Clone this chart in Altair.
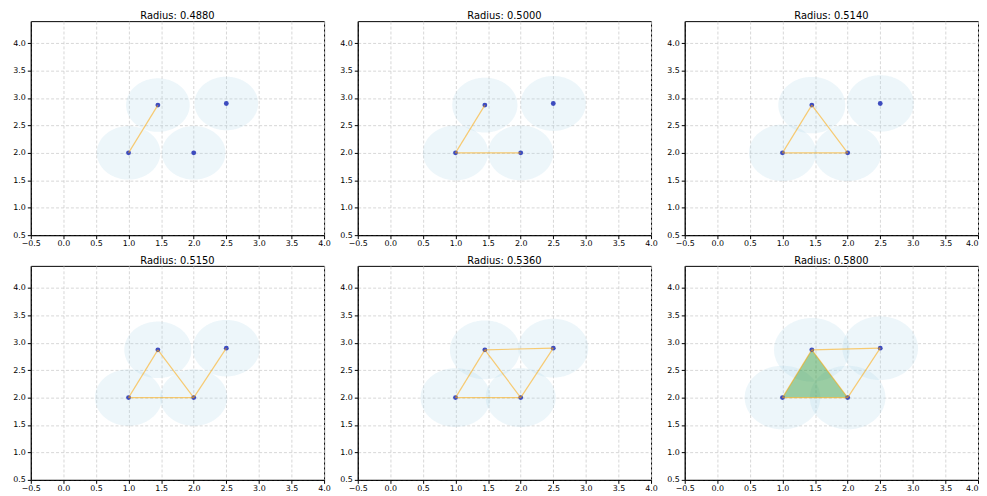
import altair as alt
import numpy as np
import pandas as pd

# ---- data ----
pts_x = [1.0, 1.45, 2.0, 2.5]
pts_y = [2.0, 2.87, 2.0, 2.9]
radii = [0.488, 0.500, 0.514, 0.515, 0.536, 0.580]
panel_edges = [
    [(0, 1)],
    [(0, 1), (0, 2)],
    [(0, 1), (0, 2), (1, 2)],
    [(0, 1), (0, 2), (1, 2), (2, 3)],
    [(0, 1), (0, 2), (1, 2), (2, 3), (1, 3)],
    [(0, 1), (0, 2), (1, 2), (2, 3), (1, 3)],
]
panel_triangles = [[], [], [], [], [], [(0, 1, 2)]]
x_ticks = [-0.5, 0.0, 0.5, 1.0, 1.5, 2.0, 2.5, 3.0, 3.5, 4.0]
y_ticks = [0.5, 1.0, 1.5, 2.0, 2.5, 3.0, 3.5, 4.0]
x_domain = [-0.5, 4.0]
y_domain = [0.5, 4.4]

FONT = "DejaVu Sans"
W, H = 296, 216

xs = alt.Scale(domain=x_domain, nice=False, zero=False)
ys = alt.Scale(domain=y_domain, nice=False, zero=False)
minus = "replace(datum.label, '-', '\u2212')"


def x_axis(last_col):
    kw = dict(values=x_ticks, format=".1f", labelExpr=minus, title=None,
              labelOverlap=False, tickCount=30, labelFlush=False, labelPadding=1)
    if last_col:
        kw["labelAlign"] = {"condition": {"test": "datum.value >= 4", "value": "right"},
                            "value": "center"}
    return alt.Axis(**kw)


yax = alt.Axis(values=y_ticks, format=".1f", title=None, labelOverlap=False,
               tickCount=30, labelFlush=False, labelPadding=2)


def circle_df(r):
    rows = []
    t = np.linspace(np.pi, 0, 121)
    for i, (cx, cy) in enumerate(zip(pts_x, pts_y)):
        for a in t:
            rows.append({"c": i, "x": cx + r * np.cos(a),
                         "yu": cy + r * np.sin(a), "yl": cy - r * np.sin(a)})
    return pd.DataFrame(rows)


def tri_df(tris):
    rows = []
    for k, tri in enumerate(tris):
        v = sorted([(pts_x[i], pts_y[i]) for i in tri])
        segs = [(v[0], v[1]), (v[1], v[2]), (v[0], v[2])]
        for (vx, vy) in v:
            vals = []
            for (a, b) in segs:
                if a[0] <= vx <= b[0]:
                    if b[0] == a[0]:
                        vals += [a[1], b[1]]
                    else:
                        vals.append(a[1] + (b[1] - a[1]) * (vx - a[0]) / (b[0] - a[0]))
            rows.append({"t": k, "x": vx, "yu": max(vals), "yl": min(vals)})
    return pd.DataFrame(rows, columns=["t", "x", "yu", "yl"])


def panel(idx):
    r = radii[idx]
    cdf = circle_df(r)
    circles = alt.Chart(cdf).mark_area(color="lightblue", opacity=0.22).encode(
        x=alt.X("x:Q", scale=xs, axis=x_axis(idx % 3 == 2)),
        y=alt.Y("yu:Q", scale=ys, axis=yax, stack=None),
        y2="yl:Q",
        detail="c:N",
    )
    layers = [circles]
    tdf = tri_df(panel_triangles[idx])
    if len(tdf):
        layers.append(alt.Chart(tdf).mark_area(color="green", opacity=0.35).encode(
            x=alt.X("x:Q", scale=xs), y=alt.Y("yu:Q", scale=ys, stack=None), y2="yl:Q", detail="t:N"))
    pdf = pd.DataFrame({"x": pts_x, "y": pts_y})
    layers.append(alt.Chart(pdf).mark_circle(size=24, color="#2a3ab8", opacity=0.9).encode(
        x=alt.X("x:Q", scale=xs), y=alt.Y("y:Q", scale=ys)))
    edf = pd.DataFrame([{"x": pts_x[a], "y": pts_y[a], "x2": pts_x[b], "y2": pts_y[b]}
                        for a, b in panel_edges[idx]])
    layers.append(alt.Chart(edf).mark_rule(color="orange", opacity=0.55, strokeWidth=1.2).encode(
        x=alt.X("x:Q", scale=xs), y=alt.Y("y:Q", scale=ys), x2="x2:Q", y2="y2:Q"))
    return alt.layer(*layers).properties(
        width=W, height=H,
        title=alt.TitleParams(f"Radius: {r:.4f}", fontSize=10, font=FONT, fontWeight="normal", offset=0),
    )


row1 = alt.hconcat(*[panel(i) for i in range(3)], spacing=8)
row2 = alt.hconcat(*[panel(i) for i in range(3, 6)], spacing=8)
chart = alt.vconcat(row1, row2, spacing=7).properties(
    padding={"left": 4, "top": 0, "right": 0, "bottom": 0}
).configure_view(
    stroke="black", strokeWidth=1,
).configure_axis(
    labelFont=FONT, labelFontSize=8, labelColor="black",
    domainColor="black", tickColor="black", tickSize=3.5,
    gridColor="#cccccc", gridDash=[3, 2], gridWidth=0.8, gridOpacity=1,
)

chart.save("out.html", embed_options={"renderer": "svg", "actions": False})
